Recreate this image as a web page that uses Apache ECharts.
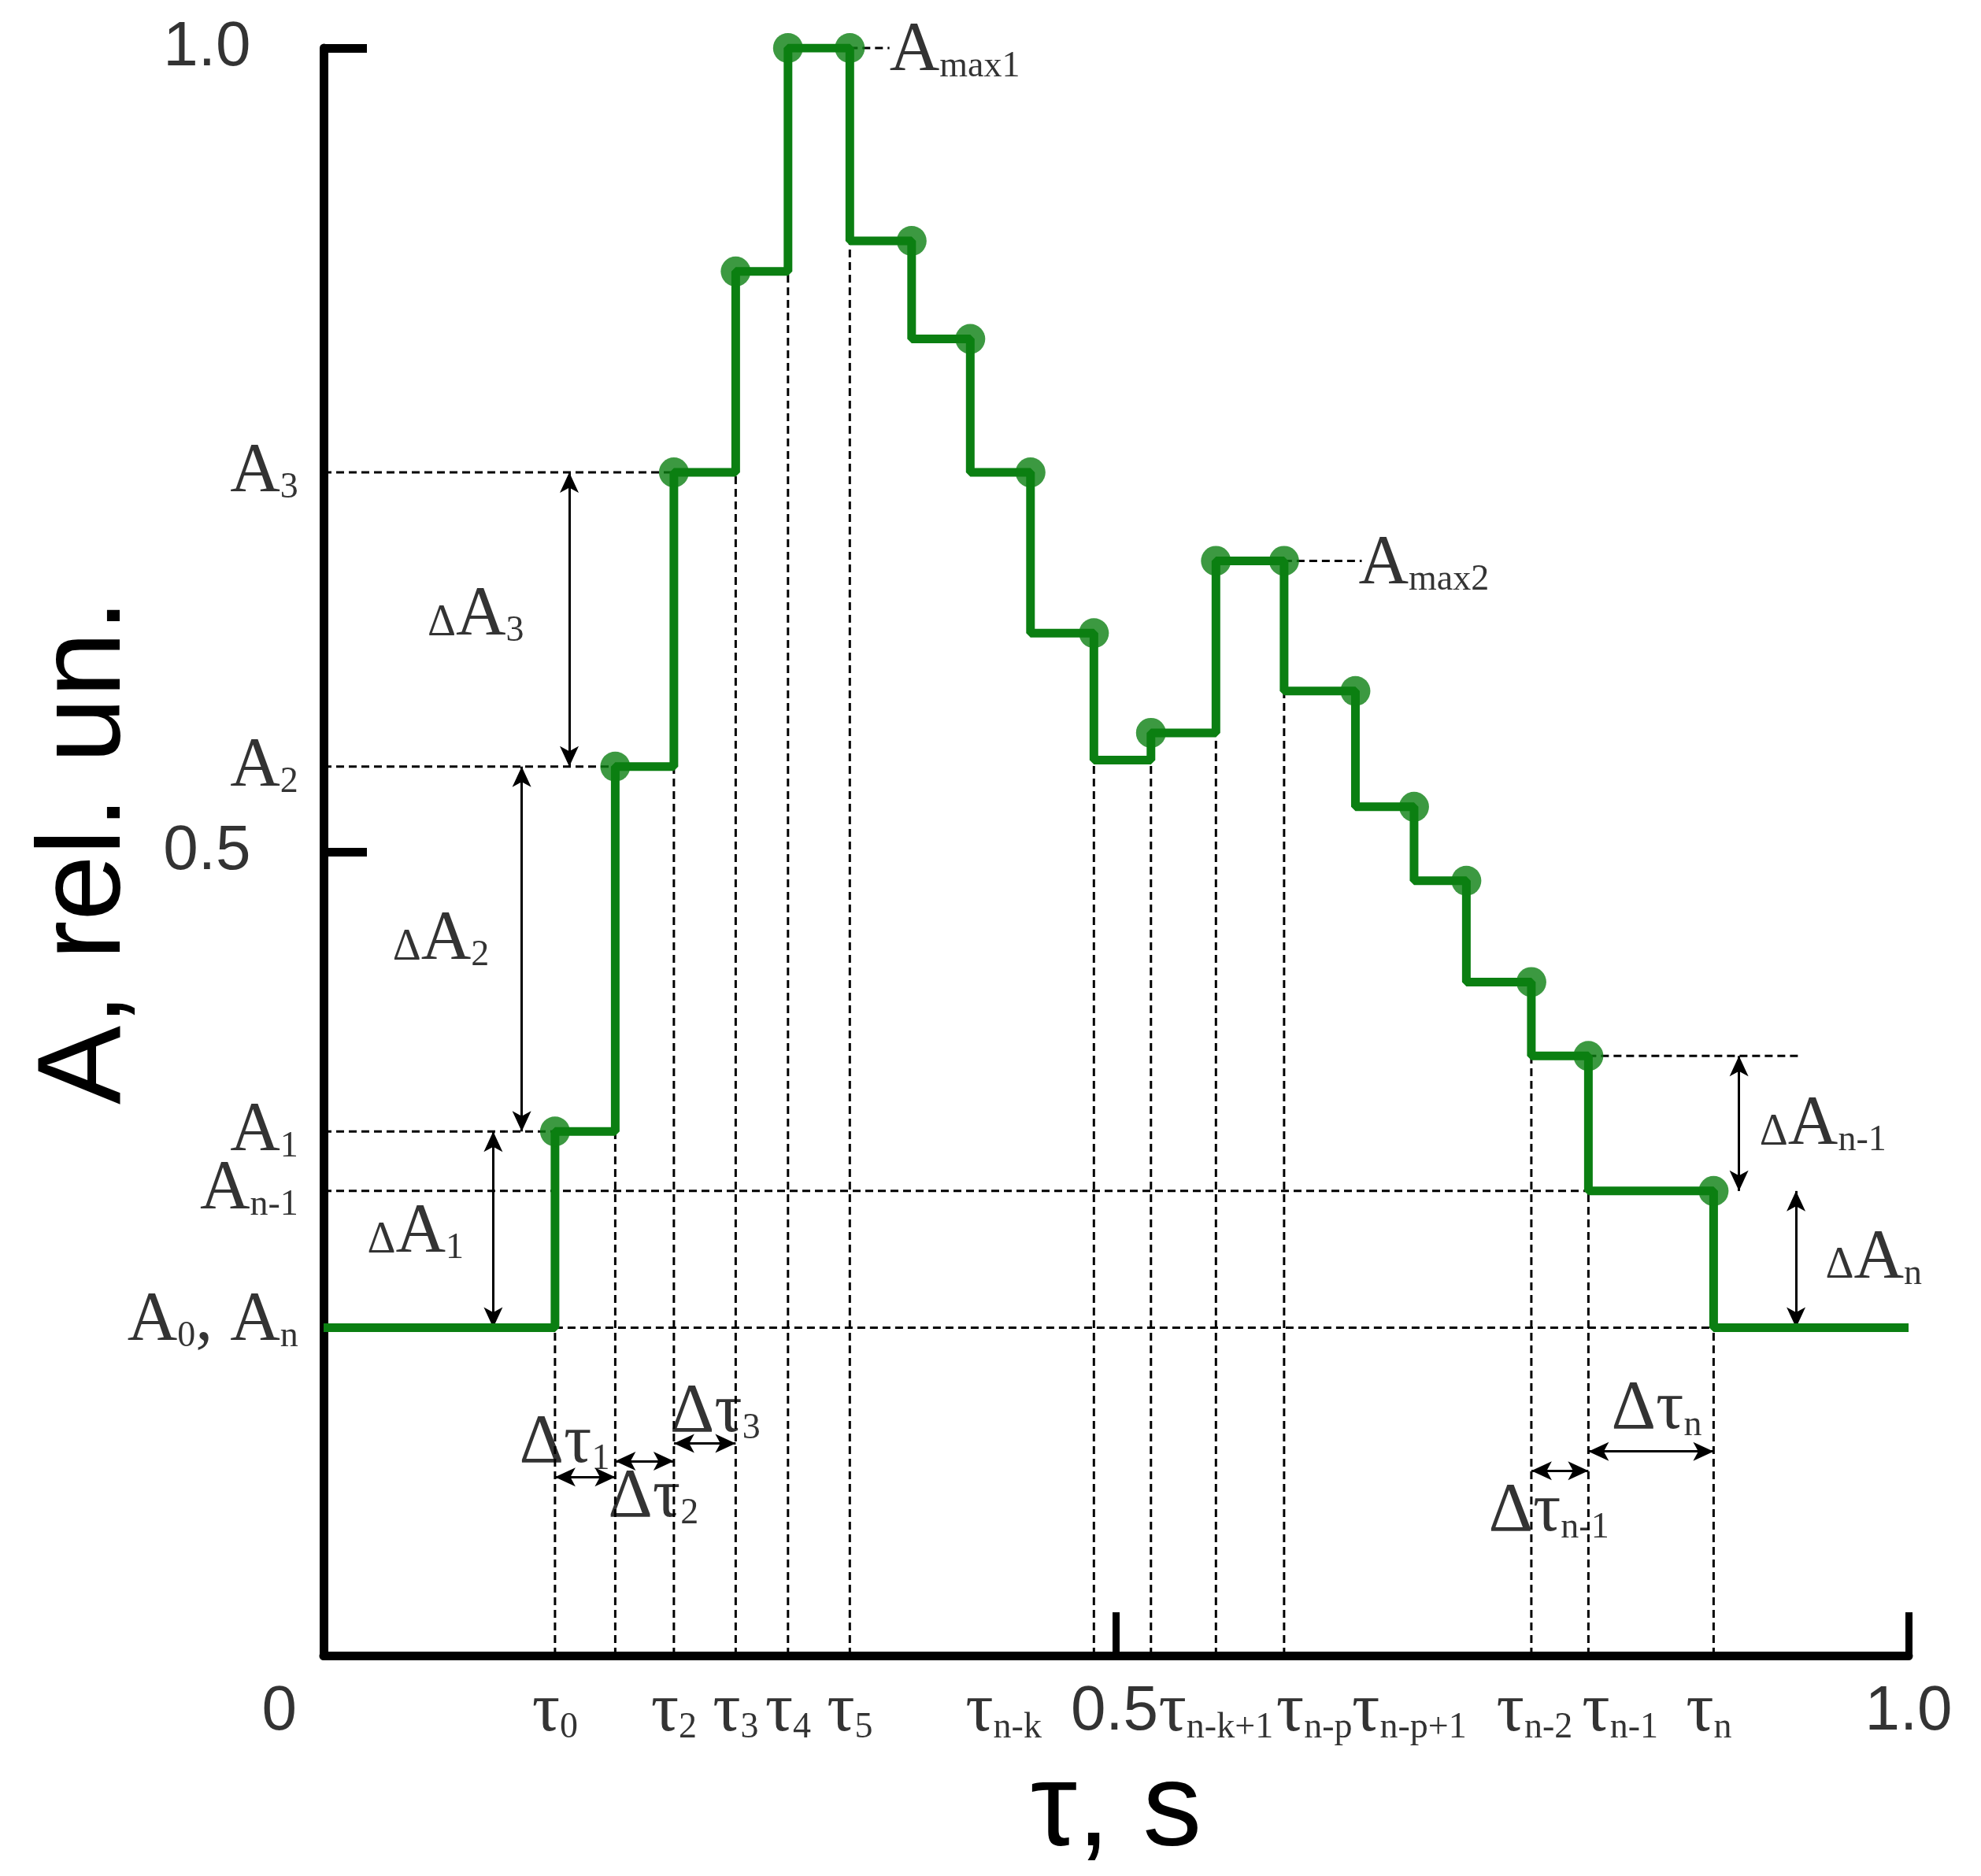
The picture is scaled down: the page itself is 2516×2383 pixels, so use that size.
<!DOCTYPE html>
<html>
<head>
<meta charset="utf-8">
<script src="https://cdn.jsdelivr.net/npm/echarts@6/dist/echarts.min.js"></script>
<style>html,body{margin:0;background:#fff}#chart{width:2516px;height:2383px}</style>
</head>
<body>
<div id="chart"></div>
<script>
// step breakpoints (tau) and level of the signal on each interval
var breaks = [0, 0.146, 0.184, 0.221, 0.260, 0.293, 0.332, 0.371, 0.408, 0.446, 0.486, 0.522, 0.563, 0.606, 0.651, 0.688, 0.721, 0.762, 0.798, 0.877, 1.0];
var levels = [0.204, 0.326, 0.553, 0.736, 0.861, 1.0, 0.880, 0.819, 0.736, 0.636, 0.557, 0.574, 0.681, 0.600, 0.528, 0.482, 0.419, 0.373, 0.289, 0.204];
// green dots
var dotX = [0.146, 0.184, 0.221, 0.260, 0.293, 0.332, 0.371, 0.408, 0.446, 0.486, 0.522, 0.563, 0.606, 0.651, 0.688, 0.721, 0.762, 0.798, 0.877];
var dotY = [0.326, 0.553, 0.736, 0.861, 1.0, 1.0, 0.880, 0.819, 0.736, 0.636, 0.574, 0.681, 0.681, 0.600, 0.528, 0.482, 0.419, 0.373, 0.289];
// which breakpoints get a dashed drop line
var dropIdx = [1, 2, 3, 4, 5, 6, 10, 11, 12, 13, 17, 18, 19];
// horizontal dashed guides
var hY  = [0.736, 0.553, 0.326, 0.289, 0.204, 0.373, 1.0, 0.681];
var hX0 = [0, 0, 0, 0, 0.146, 0.798, 0.332, 0.606];
var hX1 = [0.221, 0.184, 0.146, 0.877, 0.877, 0.933, 0.357, 0.655];
// double arrows for the deltas
var arrX0 = [0.107, 0.125, 0.155, 0.893, 0.929, 0.146, 0.184, 0.221, 0.762, 0.798];
var arrY0 = [0.204, 0.326, 0.553, 0.289, 0.204, 0.111, 0.121, 0.132, 0.115, 0.127];
var arrX1 = [0.107, 0.125, 0.155, 0.893, 0.929, 0.184, 0.221, 0.260, 0.798, 0.877];
var arrY1 = [0.326, 0.553, 0.736, 0.373, 0.289, 0.111, 0.121, 0.132, 0.115, 0.127];
// small pointer arrows below the axis
var ptrX0 = [0.441, 0.543, 0.594, 0.636];
var ptrY0 = [-0.023, -0.019, -0.019, -0.031];
var ptrX1 = [0.475, 0.529, 0.571, 0.613];
var ptrY1 = [-0.005, -0.006, -0.006, -0.007];
// x labels
var xLabX = [-0.028, 0.146, 0.221, 0.260, 0.293, 0.332, 0.429, 0.499, 0.563, 0.625, 0.685, 0.764, 0.818, 0.874, 1.0];
var xLabMain = ['0', 'τ', 'τ', 'τ', 'τ', 'τ', 'τ', '0.5', 'τ', 'τ', 'τ', 'τ', 'τ', 'τ', '1.0'];
var xLabSub = ['', '0', '2', '3', '4', '5', 'n-k', '', 'n-k+1', 'n-p', 'n-p+1', 'n-2', 'n-1', 'n', ''];
// y labels
var yLabY = [1.0, 0.5, 0.736, 0.553, 0.326, 0.290, 0.208];
var yLabMain = ['1.0', '0.5', 'A', 'A', 'A', 'A', 'A'];
var yLabSub = ['', '', '3', '2', '1', 'n-1', 'n'];
// delta / max annotations
var noteX = [0.096, 0.074, 0.058, 0.946, 0.978, 0.152, 0.208, 0.247, 0.773, 0.841, 0.357, 0.653];
var noteY = [0.647, 0.445, 0.263, 0.330, 0.247, 0.132, 0.098, 0.151, 0.089, 0.153, 0.998, 0.679];
var noteTxt = ['{d|Δ}{m|A}{s|3}', '{d|Δ}{m|A}{s|2}', '{d|Δ}{m|A}{s|1}', '{d|Δ}{m|A}{s|n-1}', '{d|Δ}{m|A}{s|n}',
    '{m|Δτ}{s|1}', '{m|Δτ}{s|2}', '{m|Δτ}{s|3}', '{m|Δτ}{s|n-1}', '{m|Δτ}{s|n}', '{m|A}{s|max1}', '{m|A}{s|max2}'];

var GREEN = '#0b7f12';
var rich = {
    m: {fontFamily: 'Liberation Serif', fontSize: 88, color: '#000'},
    s: {fontFamily: 'Liberation Serif', fontSize: 46, color: '#000', padding: [40, 0, 0, 0]},
    d: {fontFamily: 'Liberation Serif', fontSize: 56, color: '#000', padding: [20, 0, 0, 0]},
    n: {fontFamily: 'Liberation Sans Narrow, Liberation Sans', fontSize: 80, color: '#000'}
};

var series = [];
var dashStyle = {color: '#000', width: 3, type: [10, 6]};
function dash(x0, y0, x1, y1) {
    series.push({type: 'line', data: [[x0, y0], [x1, y1]], symbol: 'none', silent: true, clip: false,
        lineStyle: dashStyle, z: 1});
}
dropIdx.forEach(function (i) {
    dash(breaks[i], 0, breaks[i], Math.min(levels[i - 1], levels[i]));
});
hY.forEach(function (y, i) { dash(hX0[i], y, hX1[i], y); });

// step line
var stepData = levels.map(function (v, i) { return [breaks[i], v]; });
stepData.push([breaks[breaks.length - 1], levels[levels.length - 1]]);
series.push({type: 'line', step: 'end', data: stepData, symbol: 'none', z: 5,
    lineStyle: {color: GREEN, width: 11}});
series.push({type: 'scatter', data: dotX.map(function (x, i) { return [x, dotY[i]]; }),
    symbolSize: 38, itemStyle: {color: GREEN}, z: 6});

// arrows
var arrData = arrX0.map(function (x, i) {
    return [{coord: [x, arrY0[i]]}, {coord: [arrX1[i], arrY1[i]]}];
});
var ptrData = ptrX0.map(function (x, i) {
    return [{coord: [x, ptrY0[i]], symbol: 'none'}, {coord: [ptrX1[i], ptrY1[i]]}];
});
series.push({type: 'line', data: [], clip: false, markLine: {
    silent: true, animation: false, symbol: ['arrow', 'arrow'], symbolSize: [18, 26],
    label: {show: false}, lineStyle: {color: '#000', width: 3, type: 'solid'},
    data: arrData.concat(ptrData)
}});

// text labels
function labelSeries(xs, ys, fmt, align) {
    series.push({type: 'scatter', symbolSize: 0, clip: false, silent: true, z: 10,
        data: xs.map(function (x, i) { return {value: [x, ys[i]], t: fmt(i)}; }),
        label: {show: true, position: 'inside', align: align, verticalAlign: 'middle', rich: rich,
            formatter: function (p) { return p.data.t; }}});
}
labelSeries(xLabX, xLabX.map(function () { return -0.035; }), function (i) {
    return xLabSub[i] ? '{m|' + xLabMain[i] + '}{s|' + xLabSub[i] + '}' : '{n|' + xLabMain[i] + '}';
}, 'center');
labelSeries(yLabY.map(function (y, i) { return i < 2 ? -0.046 : -0.016; }), yLabY, function (i) {
    if (i < 2) return '{n|' + yLabMain[i] + '}';
    if (i === 6) return '{m|A}{s|0}{m|, A}{s|n}';
    return '{m|' + yLabMain[i] + '}{s|' + yLabSub[i] + '}';
}, 'right');
labelSeries(noteX, noteY, function (i) { return noteTxt[i]; }, 'center');
series[series.length - 1].data[10].label = {align: 'left'};
series[series.length - 1].data[11].label = {align: 'left'};

var option = {
    animation: false,
    grid: {left: 411, right: 92, top: 61, bottom: 276},
    xAxis: {
        type: 'value', min: 0, max: 1, interval: 0.5,
        name: 'τ, s', nameLocation: 'middle', nameGap: 125,
        nameTextStyle: {fontFamily: 'Liberation Sans', fontSize: 150, color: '#000'},
        axisLine: {lineStyle: {color: '#000', width: 11}},
        axisTick: {inside: true, length: 55, lineStyle: {color: '#000', width: 9}},
        axisLabel: {show: false}, splitLine: {show: false}
    },
    yAxis: {
        type: 'value', min: 0, max: 1, interval: 0.5,
        name: 'A, rel. un.', nameLocation: 'middle', nameGap: 225, nameRotate: 90,
        nameTextStyle: {fontFamily: 'Liberation Sans Narrow, Liberation Sans', fontSize: 150, color: '#000'},
        axisLine: {lineStyle: {color: '#000', width: 11}},
        axisTick: {inside: true, length: 55, lineStyle: {color: '#000', width: 11}},
        axisLabel: {show: false}, splitLine: {show: false}
    },
    series: series
};
var myChart = echarts.init(document.getElementById('chart'));
myChart.setOption(option);
</script>
</body>
</html>
